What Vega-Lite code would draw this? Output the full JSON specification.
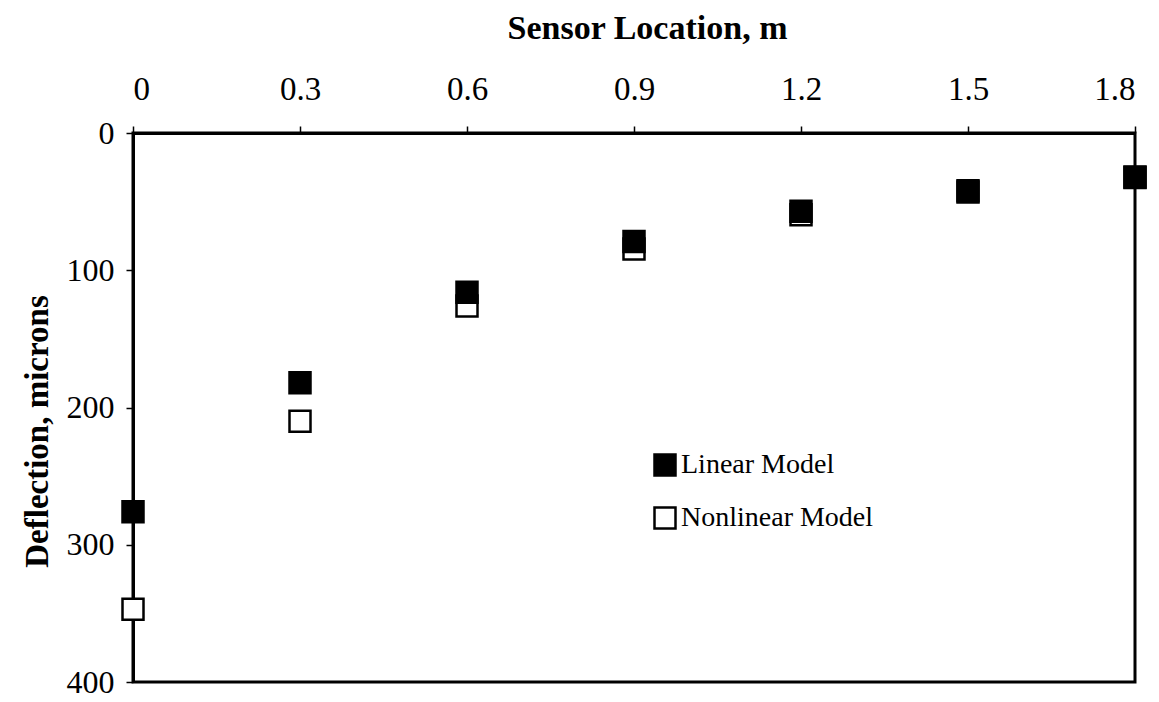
{
  "$schema": "https://vega.github.io/schema/vega-lite/v6.json",
  "width": 1002,
  "height": 549,
  "autosize": "none",
  "padding": {"left": 133, "top": 133, "right": 24, "bottom": 20},
  "background": "white",
  "config": {
    "view": {"stroke": "black", "strokeWidth": 3},
    "font": "Liberation Serif"
  },
  "data": {
    "values": [
      {"x": 0, "y": 347, "model": "Nonlinear Model"},
      {"x": 0.3, "y": 210, "model": "Nonlinear Model"},
      {"x": 0.6, "y": 126, "model": "Nonlinear Model"},
      {"x": 0.9, "y": 84.5, "model": "Nonlinear Model"},
      {"x": 1.2, "y": 59.5, "model": "Nonlinear Model"},
      {"x": 1.5, "y": 43, "model": "Nonlinear Model"},
      {"x": 1.8, "y": 32.5, "model": "Nonlinear Model"},
      {"x": 0, "y": 276, "model": "Linear Model"},
      {"x": 0.3, "y": 182, "model": "Linear Model"},
      {"x": 0.6, "y": 116, "model": "Linear Model"},
      {"x": 0.9, "y": 79, "model": "Linear Model"},
      {"x": 1.2, "y": 57, "model": "Linear Model"},
      {"x": 1.5, "y": 42, "model": "Linear Model"},
      {"x": 1.8, "y": 32, "model": "Linear Model"}
    ]
  },
  "mark": {"type": "point", "shape": "square", "filled": true, "size": 441, "stroke": "black", "strokeWidth": 2.5, "opacity": 1, "clip": false},
  "encoding": {
    "x": {
      "field": "x", "type": "quantitative",
      "scale": {"domain": [0, 1.8], "nice": false, "zero": false},
      "axis": {
        "orient": "top", "title": "Sensor Location, m",
        "values": [0, 0.3, 0.6, 0.9, 1.2, 1.5, 1.8], "format": "~g",
        "grid": false, "domain": true, "domainColor": "black", "domainWidth": 3,
        "ticks": true, "tickColor": "black", "tickWidth": 1.5, "tickSize": 7,
        "labelFont": "Liberation Serif", "labelFontSize": 33, "labelColor": "black", "labelPadding": 20,
        "titleFont": "Liberation Serif", "titleFontSize": 34, "titleFontWeight": "bold", "titleColor": "black", "titlePadding": 28, "titleX": 514
      }
    },
    "y": {
      "field": "y", "type": "quantitative",
      "scale": {"domain": [0, 400], "reverse": true, "nice": false},
      "axis": {
        "orient": "left", "title": "Deflection, microns",
        "values": [0, 100, 200, 300, 400],
        "grid": false, "domain": true, "domainColor": "black", "domainWidth": 3,
        "ticks": true, "tickColor": "black", "tickWidth": 1.5, "tickSize": 7,
        "labelFont": "Liberation Serif", "labelFontSize": 32, "labelColor": "black", "labelPadding": 12,
        "titleFont": "Liberation Serif", "titleFontSize": 33, "titleFontWeight": "bold", "titleColor": "black", "titlePadding": 12, "titleY": 298
      }
    },
    "fill": {
      "field": "model", "type": "nominal",
      "scale": {"domain": ["Linear Model", "Nonlinear Model"], "range": ["black", "white"]},
      "legend": {
        "title": null, "orient": "none", "legendX": 518, "legendY": 318,
        "symbolType": "square", "symbolSize": 441, "symbolStrokeColor": "black", "symbolStrokeWidth": 2.5,
        "labelFont": "Liberation Serif", "labelFontSize": 28, "labelColor": "black", "labelOffset": 2,
        "rowPadding": 21, "labelLimit": 400
      }
    }
  }
}
